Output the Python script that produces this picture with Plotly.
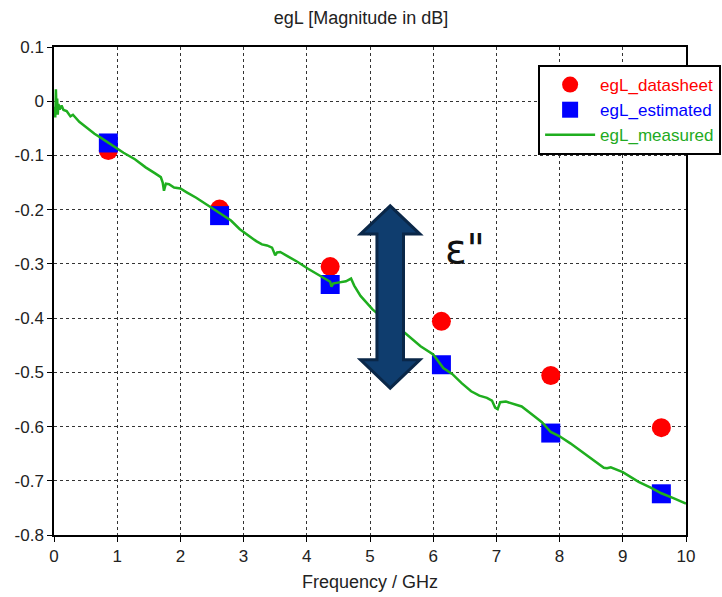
import plotly.graph_objects as go

# ---- data ----
freq_points = [0.86, 2.62, 4.37, 6.13, 7.86, 9.61]
datasheet = [-0.091, -0.199, -0.305, -0.406, -0.506, -0.602]
estimated = [-0.077, -0.211, -0.338, -0.486, -0.612, -0.724]

meas_freq = [0.01, 0.02, 0.03, 0.04, 0.05, 0.06, 0.07, 0.09, 0.12, 0.15, 0.2, 0.26, 0.3, 0.4,
             0.5, 0.64, 0.75, 0.86, 1.0, 1.1, 1.28, 1.45, 1.6, 1.69, 1.72, 1.74, 1.77, 1.82,
             1.9, 2.0, 2.1, 2.25, 2.42, 2.62, 2.8, 2.94, 3.1, 3.2, 3.29, 3.37, 3.45, 3.5,
             3.53, 3.58, 3.7, 3.85, 4.02, 4.2, 4.3, 4.37, 4.39, 4.42, 4.47, 4.55, 4.62, 4.7,
             4.75, 4.85, 5.04, 5.3, 5.55, 5.8, 6.0, 6.16, 6.3, 6.45, 6.6, 6.73, 6.85, 6.93,
             6.98, 7.02, 7.06, 7.15, 7.4, 7.6, 7.72, 7.86, 8.0, 8.17, 8.4, 8.55, 8.7, 8.75,
             8.81, 9.0, 9.25, 9.45, 9.61, 9.8, 10.0]
meas_val = [-0.01, -0.03, 0.022, -0.02, 0.005, -0.025, -0.005, -0.015, -0.008, -0.016, -0.018,
            -0.028, -0.025, -0.038, -0.047, -0.06, -0.068, -0.077, -0.088, -0.095, -0.107,
            -0.122, -0.133, -0.14, -0.15, -0.165, -0.152, -0.153, -0.159, -0.161, -0.168,
            -0.178, -0.191, -0.206, -0.22, -0.236, -0.25, -0.258, -0.264, -0.266, -0.27,
            -0.284, -0.279, -0.278, -0.286, -0.296, -0.309, -0.322, -0.328, -0.333, -0.342,
            -0.336, -0.335, -0.333, -0.332, -0.327, -0.34, -0.359, -0.384, -0.409, -0.427,
            -0.452, -0.467, -0.492, -0.503, -0.52, -0.535, -0.543, -0.547, -0.552, -0.565,
            -0.568, -0.555, -0.554, -0.563, -0.581, -0.592, -0.61, -0.618, -0.631, -0.65,
            -0.662, -0.676, -0.677, -0.675, -0.684, -0.702, -0.713, -0.723, -0.732, -0.742]

x_ticks = [0, 1, 2, 3, 4, 5, 6, 7, 8, 9, 10]
x_labels = ["0", "1", "2", "3", "4", "5", "6", "7", "8", "9", "10"]
y_ticks = [0.1, 0, -0.1, -0.2, -0.3, -0.4, -0.5, -0.6, -0.7, -0.8]
y_labels = ["0.1", "0", "-0.1", "-0.2", "-0.3", "-0.4", "-0.5", "-0.6", "-0.7", "-0.8"]

FONT = "Liberation Sans"
TXT = "#222222"

fig = go.Figure()
fig.add_trace(go.Scatter(
    x=freq_points, y=datasheet, mode="markers",
    name="<span style='color:#ff0000'>egL_datasheet</span>",
    marker=dict(symbol="circle", size=19, color="#ff0000")))
fig.add_trace(go.Scatter(
    x=freq_points, y=estimated, mode="markers",
    name="<span style='color:#0000ff'>egL_estimated</span>",
    marker=dict(symbol="square", size=19, color="#0000ff")))
fig.add_trace(go.Scatter(
    x=meas_freq, y=meas_val, mode="lines",
    name="<span style='color:#22aa22'>egL_measured</span>",
    line=dict(color="#1fae1f", width=2.5)))

# double-headed block arrow annotation
cx, top, bot = 5.32, -0.193, -0.529
sw, hw, hh = 0.21, 0.47, 0.052
pts = [(cx, top), (cx + hw, top - hh), (cx + sw, top - hh), (cx + sw, bot + hh),
       (cx + hw, bot + hh), (cx, bot), (cx - hw, bot + hh), (cx - sw, bot + hh),
       (cx - sw, top - hh), (cx - hw, top - hh)]
path = "M " + " L ".join(f"{px},{py}" for px, py in pts) + " Z"
fig.add_shape(type="path", path=path, xref="x", yref="y",
              fillcolor="#0f3d6e", line=dict(color="#0a2748", width=3), layer="above")

fig.add_annotation(x=6.51, y=-0.273, xref="x", yref="y", text='ε"', showarrow=False,
                   font=dict(family="DejaVu Sans", size=40, color="#111111"))

axis_common = dict(showline=True, linecolor="#000000", linewidth=1.5, mirror=True,
                   showgrid=True, gridcolor="#333333", gridwidth=1, griddash="3px,3px",
                   ticks="outside", ticklen=5, tickcolor="#000000", zeroline=False,
                   tickfont=dict(family=FONT, size=17, color=TXT))

fig.update_layout(
    width=722, height=597,
    margin=dict(l=54, r=36, t=47, b=62, autoexpand=False),
    paper_bgcolor="white", plot_bgcolor="white",
    title=dict(text="egL [Magnitude in dB]", x=0.5, xanchor="center", y=0.97, yanchor="middle",
               font=dict(family=FONT, size=18, color=TXT)),
    xaxis=dict(range=[0, 10], tickvals=x_ticks, ticktext=x_labels,
               title=dict(text="Frequency / GHz", font=dict(family=FONT, size=18, color=TXT),
                          standoff=10),
               **axis_common),
    yaxis=dict(range=[-0.8, 0.1], tickvals=y_ticks, ticktext=y_labels, **axis_common),
    legend=dict(x=0.766, y=0.963, xanchor="left", yanchor="top",
                bgcolor="white", bordercolor="#000000", borderwidth=2,
                font=dict(family=FONT, size=17), itemwidth=50, tracegroupgap=2),
    showlegend=True,
)

fig.write_html("out.html")
